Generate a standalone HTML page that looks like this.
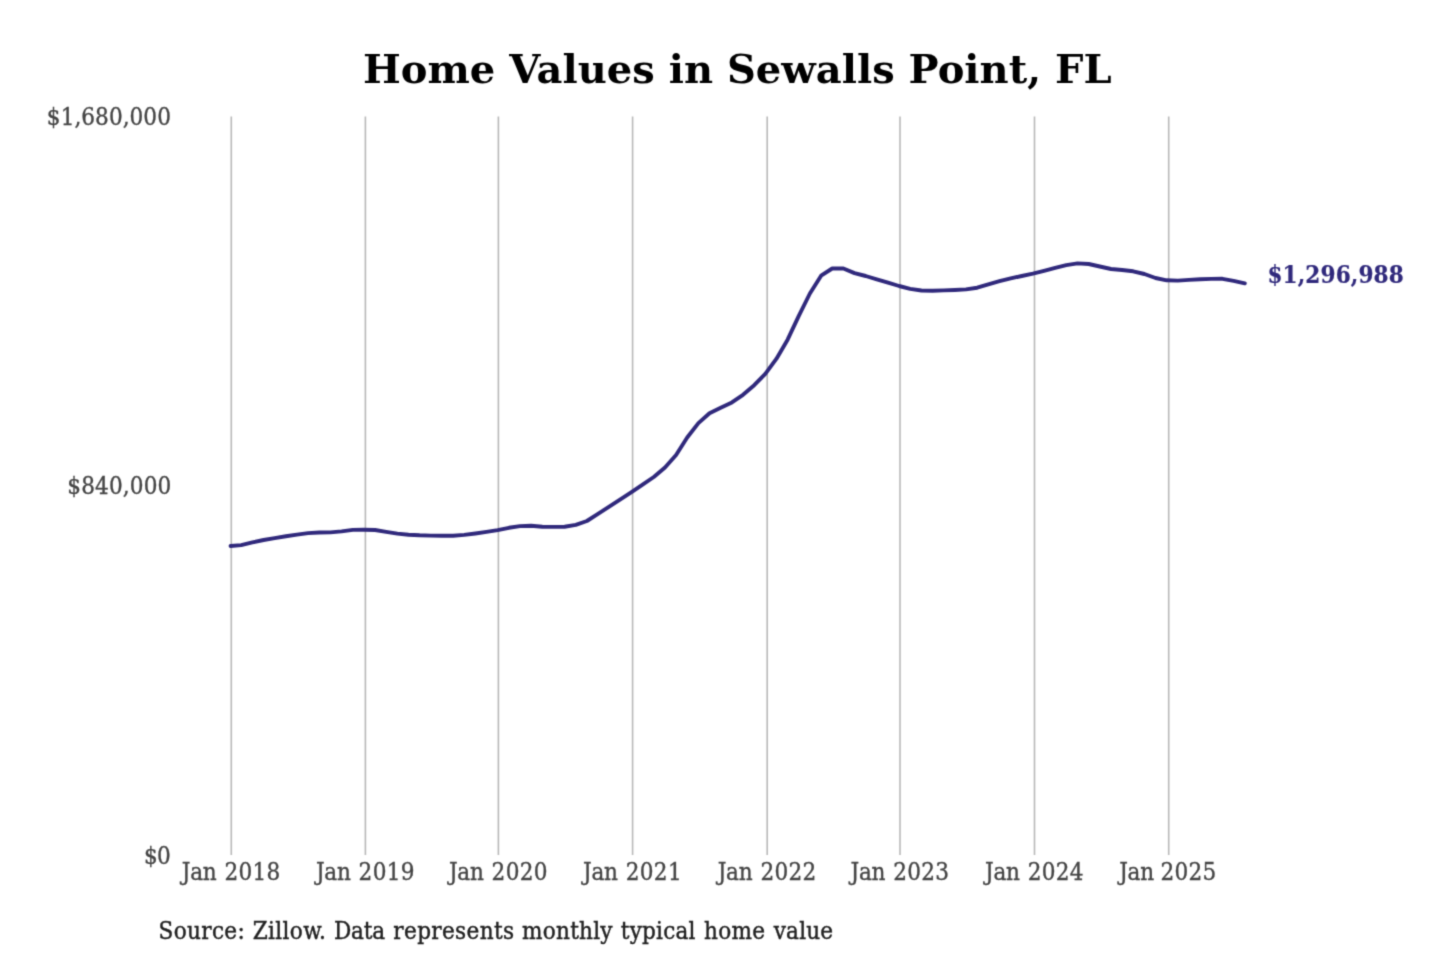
<!DOCTYPE html>
<html lang="en">
<head>
<meta charset="utf-8">
<title>Home Values in Sewalls Point, FL</title>
<style>
html,body{margin:0;padding:0;background:#fff;}
body{width:1440px;height:960px;overflow:hidden;}
svg{display:block;}
svg text{font-family:"DejaVu Serif","Liberation Serif",serif;}
.title{font-weight:bold;font-size:40px;fill:#000;}
.tick,.src,.end{font-family:"DejaVu Serif Condensed","DejaVu Serif","Liberation Serif",serif;font-stretch:condensed;font-size:24px;}
.tick{fill:#444444;stroke:#444444;stroke-width:0.35px;}
.src{fill:#202020;stroke:#202020;stroke-width:0.4px;}
.end{font-weight:bold;fill:#30297c;stroke:#30297c;stroke-width:0.2px;}
</style>
</head>
<body>
<svg width="1440" height="960" viewBox="0 0 1440 960">
<defs><filter id="soft" filterUnits="userSpaceOnUse" x="0" y="0" width="1440" height="960" color-interpolation-filters="sRGB"><feConvolveMatrix order="3" kernelMatrix="1 4 1 4 16 4 1 4 1" divisor="36" edgeMode="duplicate"/></filter></defs>
<g filter="url(#soft)">
<rect width="1440" height="960" fill="#ffffff"/>
<g stroke="#b8b8b8" stroke-width="1.6"><line x1="231.3" y1="116.4" x2="231.3" y2="855"/><line x1="365.4" y1="116.4" x2="365.4" y2="855"/><line x1="498.4" y1="116.4" x2="498.4" y2="855"/><line x1="632.6" y1="116.4" x2="632.6" y2="855"/><line x1="767.2" y1="116.4" x2="767.2" y2="855"/><line x1="900.0" y1="116.4" x2="900.0" y2="855"/><line x1="1034.5" y1="116.4" x2="1034.5" y2="855"/><line x1="1168.7" y1="116.4" x2="1168.7" y2="855"/></g>
<path d="M230.6,546.0 L241.2,545.1 L252.4,542.4 L263.6,540.0 L274.7,538.1 L285.9,536.3 L297.0,534.6 L308.1,533.1 L319.3,532.5 L330.4,532.4 L341.6,531.4 L352.8,529.9 L363.9,529.7 L375.1,530.0 L386.2,531.9 L397.4,533.6 L408.5,534.7 L419.6,535.3 L430.8,535.6 L441.9,535.8 L453.1,535.7 L464.2,534.9 L475.4,533.5 L486.5,531.9 L497.7,530.1 L508.9,527.8 L520.0,526.1 L531.1,525.7 L542.3,526.7 L553.5,526.9 L564.6,526.7 L575.8,524.9 L586.9,521.0 L598.0,513.9 L609.2,506.7 L620.4,499.4 L631.5,492.1 L642.6,484.7 L653.8,477.0 L665.0,467.5 L676.1,455.0 L687.2,437.5 L698.4,423.1 L709.5,413.2 L720.7,407.7 L731.9,402.4 L743.0,394.8 L754.2,385.2 L765.3,373.9 L776.5,358.7 L787.6,339.7 L798.8,315.8 L809.9,293.5 L821.1,275.7 L832.2,268.5 L843.4,268.5 L854.5,273.1 L865.7,276.0 L876.8,279.3 L888.0,282.7 L899.1,286.0 L910.2,288.9 L921.4,290.5 L932.6,290.7 L943.7,290.4 L954.9,290.0 L966.0,289.4 L977.2,287.7 L988.3,284.3 L999.5,281.2 L1010.6,278.3 L1021.8,276.0 L1032.9,273.7 L1044.0,270.8 L1055.2,267.8 L1066.3,265.1 L1077.5,263.4 L1088.7,264.0 L1099.8,266.5 L1111.0,269.0 L1122.1,270.0 L1133.2,271.3 L1144.4,274.0 L1155.5,278.0 L1166.7,280.3 L1177.8,280.6 L1189.0,279.9 L1200.2,279.2 L1211.3,278.9 L1222.5,278.8 L1233.6,280.8 L1244.8,283.3" fill="none" stroke="#30297c" stroke-width="3.9" stroke-linecap="round" stroke-linejoin="round"/>
<text class="title" y="83.2"><tspan x="362.90" letter-spacing="0.016">Home Values in Sewalls Point, FL</tspan></text>
<g><text class="tick" y="124.6"><tspan x="46.85" letter-spacing="0.050">$1,680,000</tspan></text><text class="tick" y="494.2"><tspan x="67.25" letter-spacing="0.150">$840,000</tspan></text><text class="tick" y="864.0"><tspan x="144.10" letter-spacing="-0.800">$0</tspan></text></g>
<g><text class="tick" y="880.0" xml:space="preserve"><tspan x="181.80" letter-spacing="-0.250">Jan </tspan><tspan x="224.50" letter-spacing="0.300">2018</tspan></text><text class="tick" y="880.0" xml:space="preserve"><tspan x="315.90" letter-spacing="-0.250">Jan </tspan><tspan x="358.60" letter-spacing="0.300">2019</tspan></text><text class="tick" y="880.0" xml:space="preserve"><tspan x="448.90" letter-spacing="-0.250">Jan </tspan><tspan x="491.60" letter-spacing="0.300">2020</tspan></text><text class="tick" y="880.0" xml:space="preserve"><tspan x="583.10" letter-spacing="-0.250">Jan </tspan><tspan x="625.80" letter-spacing="0.300">2021</tspan></text><text class="tick" y="880.0" xml:space="preserve"><tspan x="717.70" letter-spacing="-0.250">Jan </tspan><tspan x="760.40" letter-spacing="0.300">2022</tspan></text><text class="tick" y="880.0" xml:space="preserve"><tspan x="850.50" letter-spacing="-0.250">Jan </tspan><tspan x="893.20" letter-spacing="0.300">2023</tspan></text><text class="tick" y="880.0" xml:space="preserve"><tspan x="985.00" letter-spacing="-0.250">Jan </tspan><tspan x="1027.70" letter-spacing="0.300">2024</tspan></text><text class="tick" y="880.0" xml:space="preserve"><tspan x="1119.20" letter-spacing="-0.250">Jan </tspan><tspan x="1160.40" letter-spacing="0.300">2025</tspan></text></g>
<text class="end" y="282.9"><tspan x="1267.40" letter-spacing="0.133">$1,296,988</tspan></text>
<text class="src" y="938.9" xml:space="preserve"><tspan x="158.60" letter-spacing="0.317">Source: </tspan><tspan x="252.70" letter-spacing="0.350">Zillow. </tspan><tspan x="334.00" letter-spacing="-0.200">Data </tspan><tspan x="393.35" letter-spacing="0.350">represents </tspan><tspan x="522.10" letter-spacing="0.233">monthly </tspan><tspan x="620.85" letter-spacing="0.192">typical </tspan><tspan x="704.00" letter-spacing="0.267">home </tspan><tspan x="773.70" letter-spacing="0.200">value</tspan></text>
</g>
</svg>
</body>
</html>
